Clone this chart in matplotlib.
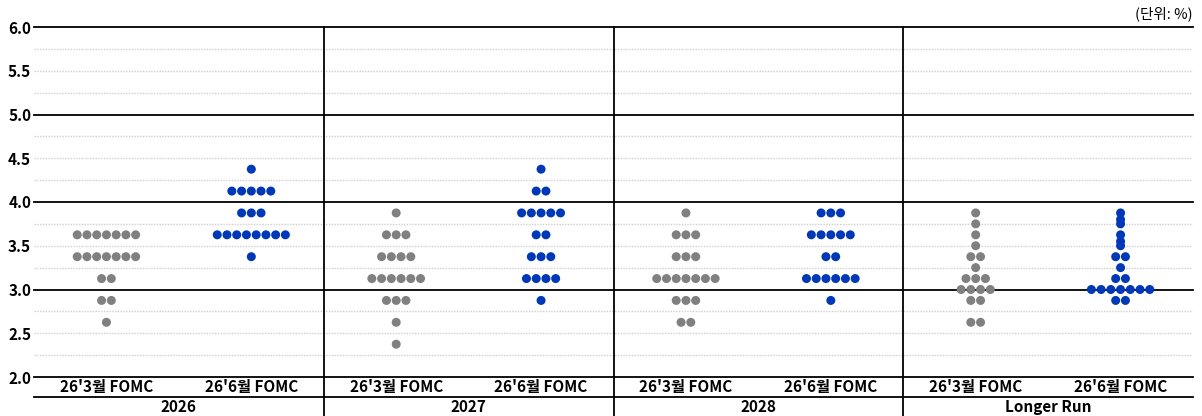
import numpy as np
import matplotlib
matplotlib.use("Agg")
import matplotlib.pyplot as plt
import matplotlib.transforms as mtransforms

plt.rcParams["font.family"] = ["Noto Sans CJK KR", "DejaVu Sans"]

# ── Data: rate level -> number of participants ───────────────────────────────
groups = ["2026", "2027", "2028", "Longer Run"]
meetings = ["26'3월 FOMC", "26'6월 FOMC"]

mar_2026 = {3.625: 7, 3.375: 7, 3.125: 2, 2.875: 2, 2.625: 1}
jun_2026 = {4.375: 1, 4.125: 5, 3.875: 3, 3.625: 8, 3.375: 1}
mar_2027 = {3.875: 1, 3.625: 3, 3.375: 4, 3.125: 6, 2.875: 3, 2.625: 1, 2.375: 1}
jun_2027 = {4.375: 1, 4.125: 2, 3.875: 5, 3.625: 2, 3.375: 3, 3.125: 4, 2.875: 1}
mar_2028 = {3.875: 1, 3.625: 3, 3.375: 3, 3.125: 7, 2.875: 3, 2.625: 2}
jun_2028 = {3.875: 3, 3.625: 5, 3.375: 2, 3.125: 6, 2.875: 1}
mar_lr = {3.875: 1, 3.75: 1, 3.625: 1, 3.5: 1, 3.375: 2, 3.25: 1,
          3.125: 3, 3.0: 4, 2.875: 2, 2.625: 2}
jun_lr = {3.875: 1, 3.8: 1, 3.75: 1, 3.625: 1, 3.55: 1, 3.5: 1, 3.375: 2,
          3.25: 1, 3.125: 2, 3.0: 7, 2.875: 2}

columns = [[mar_2026, jun_2026], [mar_2027, jun_2027],
           [mar_2028, jun_2028], [mar_lr, jun_lr]]

colors = ["#808080", "#0038b8"]
dot_gap = 0.0336  # horizontal spacing between dots, in group units

# ── Figure ───────────────────────────────────────────────────────────────────
W, H = 1202, 416
fig = plt.figure(figsize=(W / 100, H / 100), dpi=100)
ax = fig.add_axes([34 / W, (H - 377) / H, (1193 - 34) / W, (377 - 27) / H])
ax.set_xlim(0, len(groups))
ax.set_ylim(2.0, 6.0)

# grid: solid at integers, dotted at quarter steps
for y in np.arange(2.0, 6.01, 0.25):
    if abs(y - round(y)) < 1e-9:
        ax.axhline(y, color="black", lw=1.3, zorder=1, clip_on=False)
    else:
        ax.axhline(y, color="#cfcfcf", lw=1.0, ls=(0, (1, 1)), zorder=1)

# dots
for g, pair in enumerate(columns):
    for m, counts in enumerate(pair):
        cx = g + 0.25 + 0.5 * m
        xs, ys = [], []
        for level, n in counts.items():
            offs = (np.arange(n) - (n - 1) / 2) * dot_gap
            xs.extend(cx + offs)
            ys.extend([level] * n)
        ax.scatter(xs, ys, s=42, color=colors[m], edgecolors="none", zorder=3)

# y ticks
ax.set_yticks(np.arange(2.0, 6.01, 0.5))
ax.set_yticklabels([f"{v:.1f}" for v in np.arange(2.0, 6.01, 0.5)],
                   fontsize=11, fontweight="bold")
ax.tick_params(axis="y", length=0, pad=2)
ax.set_xticks([])
for side in ["top", "bottom", "left", "right"]:
    ax.spines[side].set_visible(False)

# below-axis table: meeting labels and group labels
trans = mtransforms.blended_transform_factory(ax.transData, fig.transFigure)
y_mid = (H - 397) / H
for g, name in enumerate(groups):
    for m, meet in enumerate(meetings):
        ax.text(g + 0.25 + 0.5 * m, (H - 387) / H, meet, transform=trans,
                ha="center", va="center", fontsize=11, fontweight="bold")
    ax.text(g + 0.5, (H - 407) / H, name, transform=trans,
            ha="center", va="center", fontsize=11, fontweight="bold")
ax.plot([0, len(groups)], [y_mid, y_mid], transform=trans, color="black",
        lw=1.3, clip_on=False)
for g in range(1, len(groups)):
    ax.plot([g, g], [0, (H - 27) / H], transform=trans, color="black",
            lw=1.3, clip_on=False)

fig.text(1193 / W, (H - 14) / H, "(단위: %)", ha="right", va="center",
         fontsize=10.5)

fig.savefig("out.png", dpi=100)
